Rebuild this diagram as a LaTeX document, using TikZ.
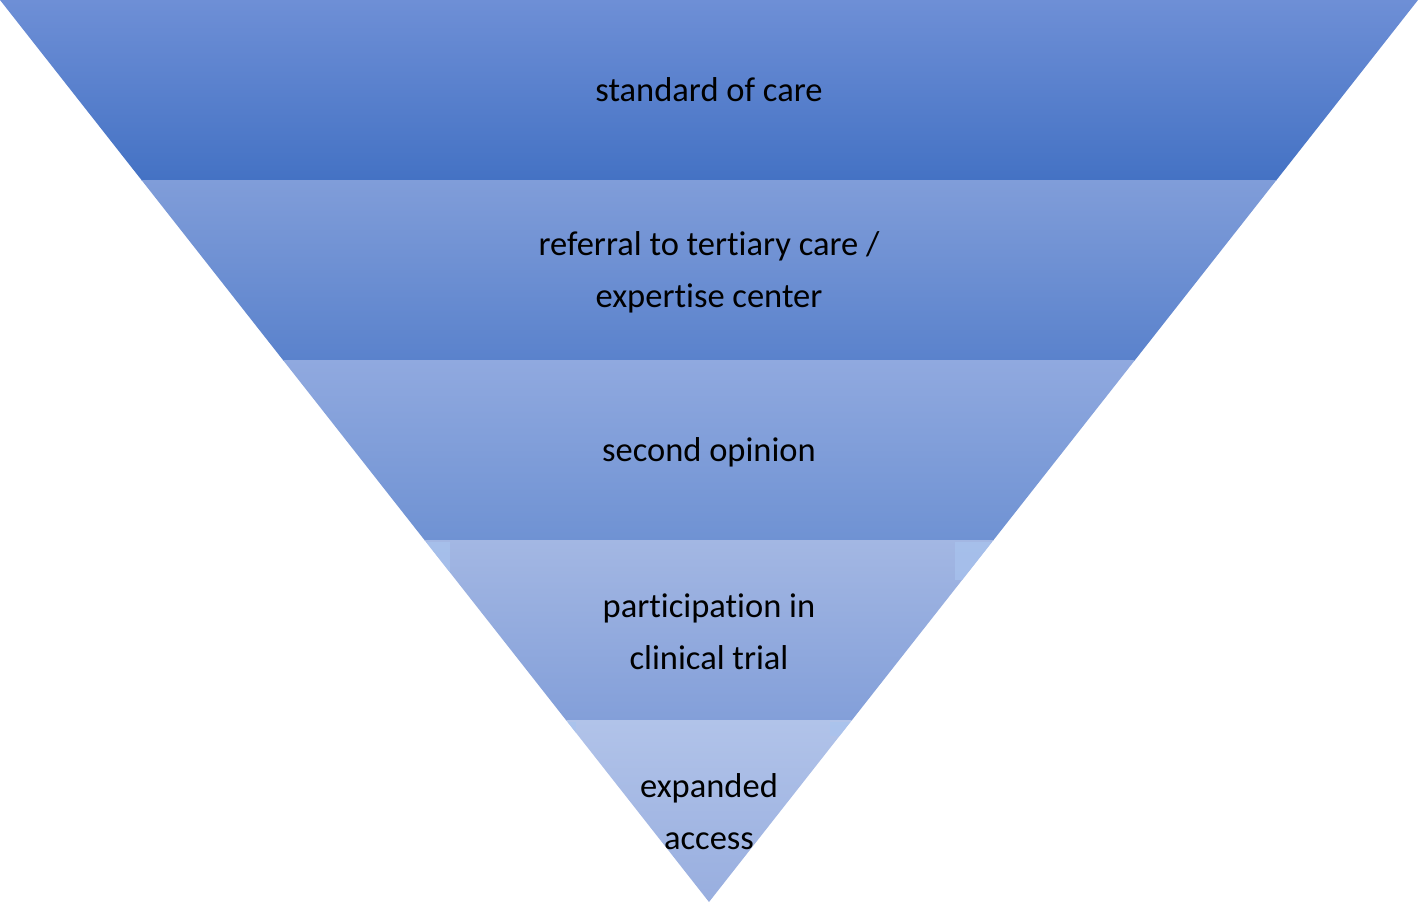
\documentclass[tikz,border=0pt]{standalone}
\usepackage{fontspec}
\setmainfont{Carlito}[Ligatures={NoCommon}]
\definecolor{bOneTop}{HTML}{6E8FD6}
\definecolor{bOneBot}{HTML}{4472C4}
\definecolor{bTwoTop}{HTML}{809DD9}
\definecolor{bTwoBot}{HTML}{5A82CC}
\definecolor{bThreeTop}{HTML}{90A9DF}
\definecolor{bThreeBot}{HTML}{6F92D3}
\definecolor{bFourTop}{HTML}{A3B7E3}
\definecolor{bFourBot}{HTML}{839FD9}
\definecolor{bFiveTop}{HTML}{B1C3E9}
\definecolor{bFiveBot}{HTML}{98AEDF}
\definecolor{patch}{HTML}{A8C3EE}
\tikzset{
  lbl/.style={font=\fontsize{34.5}{52}\selectfont, align=center, text=black, inner sep=0pt},
}
\begin{document}
\begin{tikzpicture}[x=1pt,y=-1pt]
\useasboundingbox (0,0) rectangle (1418,902);
\coordinate (tl) at (0,0);
\coordinate (tr) at (1418,0);
\coordinate (ap) at (709,902);
\begin{scope}
\clip (tl) -- (tr) -- (ap) -- cycle;
\shade[top color=bOneTop, bottom color=bOneBot] (0,0) rectangle (1418,180);
\shade[top color=bTwoTop, bottom color=bTwoBot] (0,180) rectangle (1418,360);
\shade[top color=bThreeTop, bottom color=bThreeBot] (0,360) rectangle (1418,540);
\shade[top color=bFourTop, bottom color=bFourBot] (0,540) rectangle (1418,720);
\shade[top color=bFiveTop, bottom color=bFiveBot] (0,720) rectangle (1418,902);
\fill[patch, opacity=0.7] (420,542) rectangle (450,580);
\fill[patch, opacity=0.7] (955,542) rectangle (1000,580);
\fill[patch, opacity=0.7] (560,722) rectangle (576,736);
\fill[patch, opacity=0.7] (830,722) rectangle (860,736);
\end{scope}
\node[lbl] (n1) at (709,90) {standard of care};
\node[lbl] (n2) at (709,272) {referral to tertiary care /\\expertise center};
\node[lbl] (n3) at (709,452) {second opinion};
\node[lbl] (n4) at (709,632) {participation in\\clinical trial};
\node[lbl] (n5) at (709,812) {expanded\\access};
\end{tikzpicture}
\end{document}
